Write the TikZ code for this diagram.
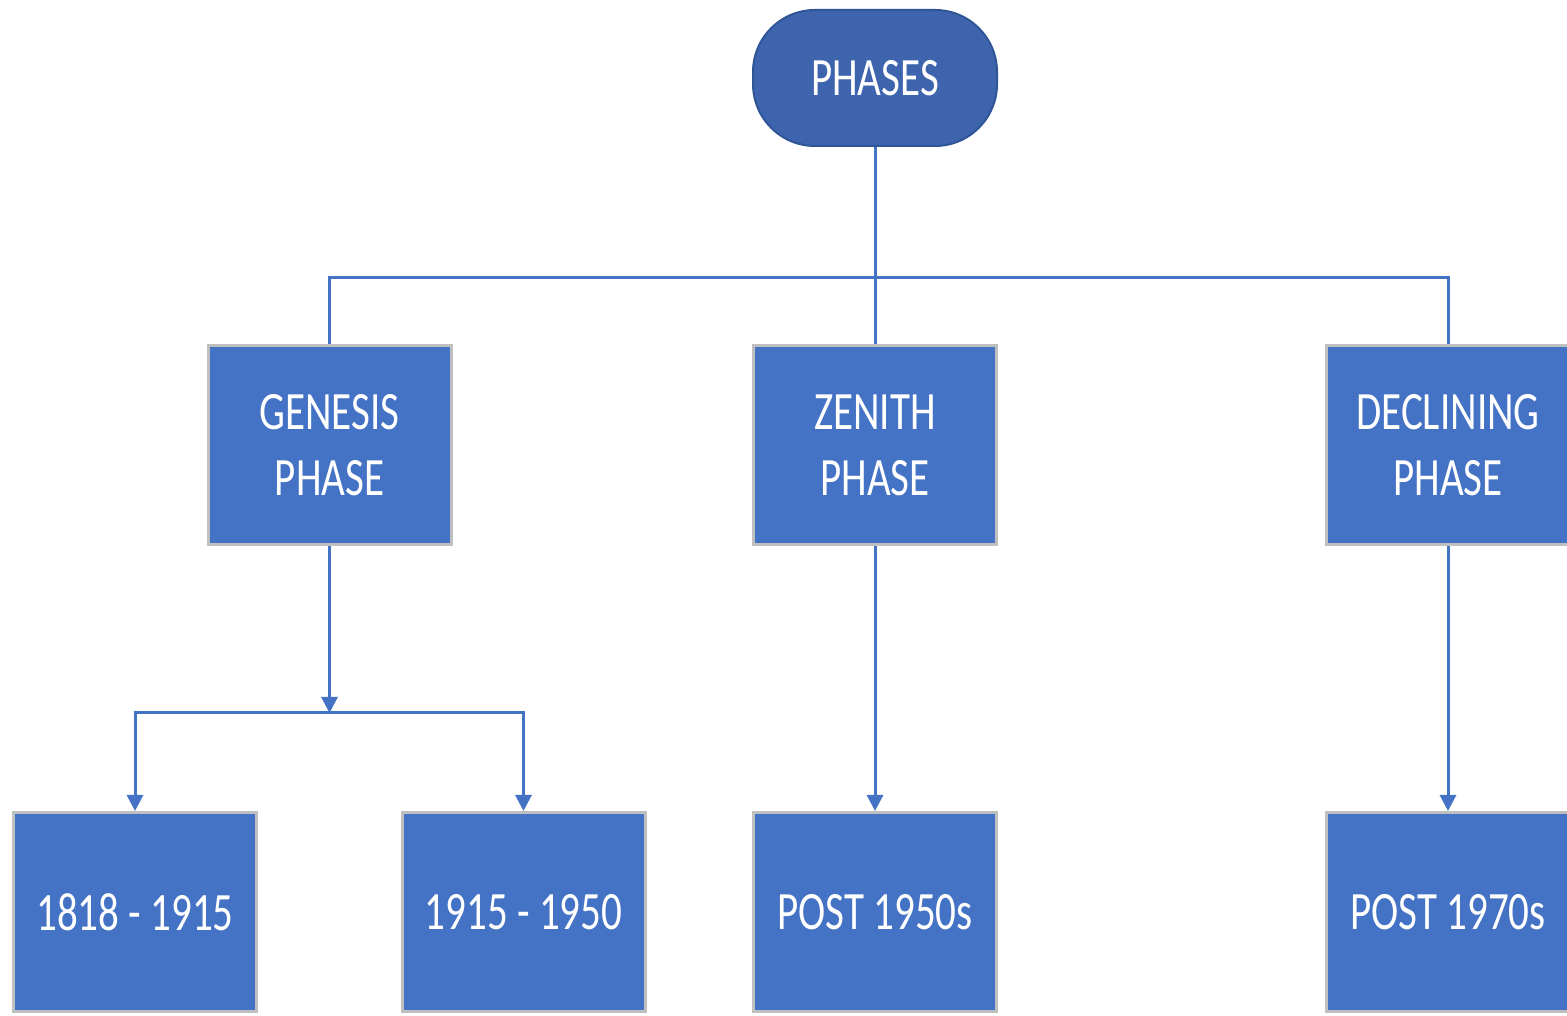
\documentclass[tikz,border=0pt]{standalone}
\usepackage{fontspec}
\setmainfont{Carlito}[FakeStretch=0.76]
\definecolor{BoxBlue}{HTML}{4472C4}
\definecolor{RootBlue}{HTML}{3E64AE}
\definecolor{RootEdge}{HTML}{2F5597}
\definecolor{EdgeGrey}{HTML}{BFBFBF}
\usetikzlibrary{arrows.meta, positioning}

\begin{document}
\begin{tikzpicture}[x=1pt, y=1pt, >={Triangle[length=16pt, width=16pt]},
    phasebox/.style={draw=EdgeGrey, line width=3pt, fill=BoxBlue, text=white,
      minimum width=243pt, minimum height=199pt, align=center,
      font=\fontsize{54}{66}\selectfont},
    rootbox/.style={draw=RootEdge, line width=2pt, fill=RootBlue, text=white,
      rounded corners=62pt, minimum width=244pt, minimum height=136pt,
      font=\fontsize{54}{66}\selectfont},
    link/.style={draw=BoxBlue, line width=3pt}]
  \useasboundingbox[fill=white] (0,0) rectangle (1567,1016);

  % Root
  \node[rootbox] (phases) at (875,938) {PHASES};

  % Phases
  \node[phasebox] (genesis) at (329.5,570.5) {GENESIS\\PHASE};
  \node[phasebox] (zenith) at (875,570.5) {ZENITH\\PHASE};
  \node[phasebox] (declining) at (1448,570.5) {DECLINING\\PHASE};

  % Periods
  \node[phasebox] (early) at (135,104) {1818 - 1915};
  \node[phasebox] (interwar) at (523.5,104) {1915 - 1950};
  \node[phasebox] (postfifty) at (875,104) {POST 1950s};
  \node[phasebox] (postseventy) at (1448,104) {POST 1970s};

  % Connectors from the root
  \coordinate (hub) at (875,738);
  \draw[link] (phases) -- (hub);
  \draw[link] (hub) -| (genesis);
  \draw[link] (hub) -| (declining);
  \draw[link] (hub) -- (zenith);

  % Connectors to the periods
  \coordinate (split) at (329.5,303);
  \draw[link, ->] (genesis) -- (split);
  \draw[link, ->] (split) -| (early);
  \draw[link, ->] (split) -| (interwar);
  \draw[link, ->] (zenith) -- (postfifty);
  \draw[link, ->] (declining) -- (postseventy);
\end{tikzpicture}
\end{document}
